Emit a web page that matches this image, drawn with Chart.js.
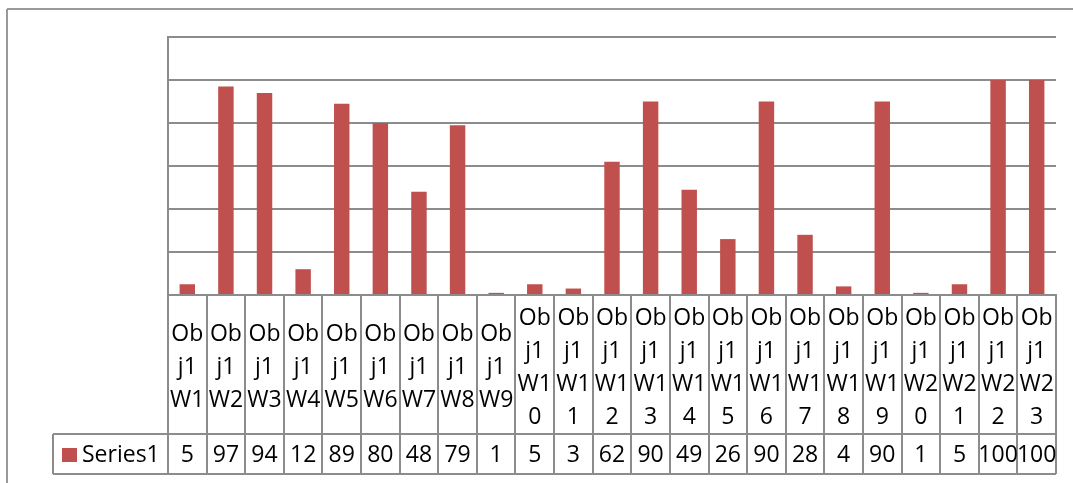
<!DOCTYPE html>
<html>
<head>
<meta charset="utf-8">
<script src="https://cdn.jsdelivr.net/npm/chart.js@4.4.1/dist/chart.umd.min.js"></script>
<style>
  html, body { margin: 0; padding: 0; background: #fff; }
  #wrap { width: 1073px; height: 483px; position: relative; }
</style>
</head>
<body>
<div id="wrap"><canvas id="chart" width="1073" height="483"></canvas></div>
<script>
// ─── DONNÉES ──────────────────────────────────────────────────────────────
const categories = [
  'Obj1W1', 'Obj1W2', 'Obj1W3', 'Obj1W4', 'Obj1W5', 'Obj1W6', 'Obj1W7', 'Obj1W8',
  'Obj1W9', 'Obj1W10', 'Obj1W11', 'Obj1W12', 'Obj1W13', 'Obj1W14', 'Obj1W15', 'Obj1W16',
  'Obj1W17', 'Obj1W18', 'Obj1W19', 'Obj1W20', 'Obj1W21', 'Obj1W22', 'Obj1W23'
];
const series1 = [5, 97, 94, 12, 89, 80, 48, 79, 1, 5, 3, 62, 90, 49, 26, 90, 28, 4, 90, 1, 5, 100, 100];
const seriesName = 'Series1';
const yMax = 120;
const yStep = 20;

const BAR = '#c0504d';
const GRID = '#8c8c8c';
const FONT = "'Open Sans', sans-serif";
const FSIZE = 23;

// Excel coupe le libellé toutes les 2 lettres
function wrapLabel(s) {
  const parts = [];
  for (let i = 0; i < s.length; i += 2) parts.push(s.slice(i, i + 2));
  return parts;
}

function line(ctx, x1, y1, x2, y2) {
  ctx.beginPath();
  ctx.moveTo(x1, y1);
  ctx.lineTo(x2, y2);
  ctx.stroke();
}

// ─── TABLEAU DE DONNÉES + LÉGENDE ─────────────────────────────────────────
const dataTable = {
  id: 'dataTable',
  afterDraw(chart) {
    const { ctx, chartArea: a, scales: { x } } = chart;
    const rowTop = 434, rowBot = 474, legLeft = 53;
    ctx.save();
    ctx.strokeStyle = GRID;
    ctx.lineWidth = 2;
    line(ctx, legLeft, rowTop, a.right, rowTop);
    line(ctx, legLeft, rowBot, a.right, rowBot);
    line(ctx, legLeft, rowTop, legLeft, rowBot);

    ctx.fillStyle = '#000';
    ctx.font = `${FSIZE}px ${FONT}`;
    ctx.textAlign = 'center';
    ctx.textBaseline = 'middle';
    series1.forEach((v, i) => ctx.fillText(String(v), x.getPixelForValue(i), 455));

    ctx.fillStyle = BAR;
    ctx.fillRect(62, 448, 15, 14);
    ctx.fillStyle = '#000';
    ctx.textAlign = 'left';
    ctx.fillText(seriesName, 82, 455);

    // cadre extérieur
    ctx.strokeStyle = '#999';
    line(ctx, 7, 9, chart.width, 9);
    line(ctx, 7, 9, 7, chart.height);
    ctx.restore();
  }
};

new Chart(document.getElementById('chart'), {
  type: 'bar',
  data: {
    labels: categories,
    datasets: [{
      label: seriesName,
      data: series1,
      backgroundColor: BAR,
      borderWidth: 0,
      barPercentage: 0.4,
      categoryPercentage: 1.0
    }]
  },
  options: {
    responsive: false,
    animation: false,
    devicePixelRatio: 1,
    layout: { padding: { left: 168, top: 37, right: 17, bottom: 0 } },
    plugins: { legend: { display: false }, tooltip: { enabled: false } },
    scales: {
      x: {
        offset: true,
        afterFit: s => { s.height = 188; },
        grid: {
          display: true,
          offset: true,
          drawOnChartArea: false,
          drawTicks: true,
          tickLength: 179,
          color: GRID,
          lineWidth: 2
        },
        border: { display: true, color: GRID, width: 2 },
        ticks: {
          autoSkip: false,
          maxRotation: 0,
          minRotation: 0,
          crossAlign: 'center',
          padding: -156,
          color: '#000',
          font: { family: FONT, size: FSIZE, lineHeight: 33 / FSIZE },
          callback: function (v) { return wrapLabel(this.getLabelForValue(v)); }
        }
      },
      y: {
        min: 0,
        max: yMax,
        afterFit: s => { s.width = 0; },
        ticks: { display: false, stepSize: yStep },
        grid: { color: GRID, lineWidth: 2, drawTicks: false },
        border: { display: true, color: GRID, width: 2 }
      }
    }
  },
  plugins: [dataTable]
});
</script>
</body>
</html>
